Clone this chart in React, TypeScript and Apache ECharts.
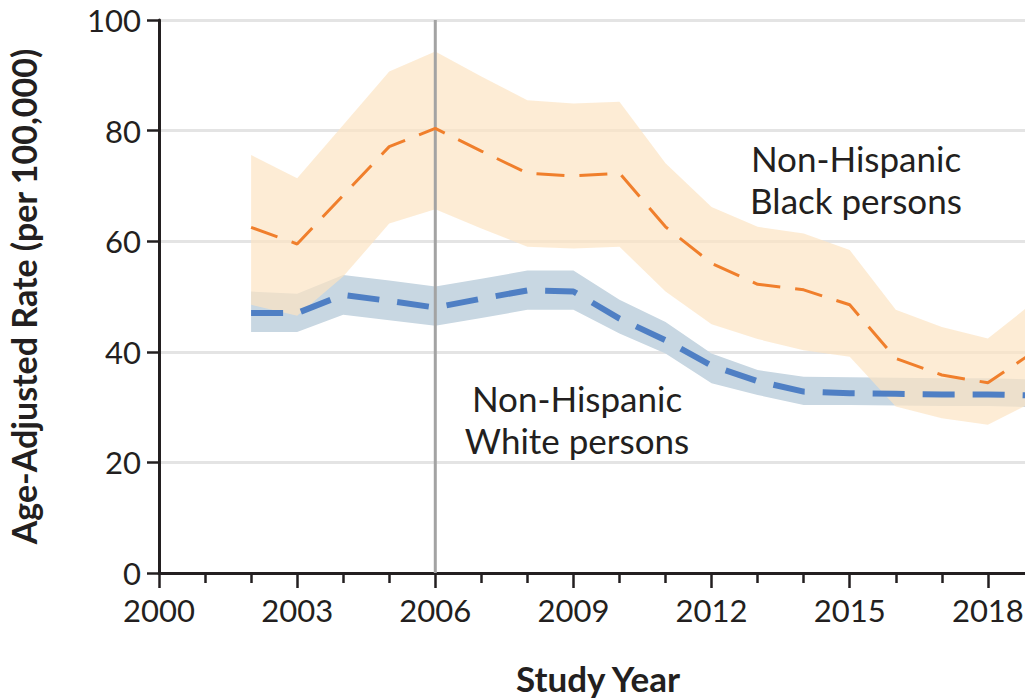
import React, { useEffect, useRef } from "react";
import * as echarts from "echarts";

const years = [2002, 2003, 2004, 2005, 2006, 2007, 2008, 2009, 2010, 2011, 2012, 2013, 2014, 2015, 2016, 2017, 2018, 2019];

const blackRate = [62.5, 59.5, 68.3, 77.1, 80.4, 76.3, 72.3, 71.8, 72.3, 62.6, 56.0, 52.2, 51.2, 48.5, 38.8, 35.8, 34.4, 40.0];
const blackUpper = [75.6, 71.4, 81.0, 90.7, 94.3, 89.8, 85.5, 84.9, 85.2, 74.1, 66.2, 62.6, 61.4, 58.4, 47.6, 44.5, 42.4, 49.0];
const blackLower = [48.5, 46.5, 53.6, 63.2, 65.8, 62.3, 59.0, 58.7, 59.0, 50.9, 45.0, 42.3, 40.3, 39.1, 30.1, 28.0, 26.8, 31.0];

const whiteRate = [47.0, 47.0, 50.3, 49.2, 48.0, 49.6, 51.1, 50.9, 46.0, 42.1, 37.5, 34.7, 32.8, 32.5, 32.4, 32.3, 32.3, 32.1];
const whiteUpper = [50.9, 50.5, 53.9, 52.9, 51.8, 53.2, 54.7, 54.7, 49.4, 45.4, 39.7, 36.7, 35.5, 35.4, 35.3, 35.2, 35.2, 35.0];
const whiteLower = [43.6, 43.6, 46.7, 45.7, 44.7, 46.1, 47.6, 47.6, 43.3, 39.7, 34.3, 32.2, 30.4, 30.4, 30.3, 30.2, 30.2, 30.0];

const referenceYear = 2006;
const xMin = 2000;
const xMax = 2021;
const lastLabelYear = 2018;
const yTicks = [0, 20, 40, 60, 80, 100];

const blackLabel = "Non-Hispanic\nBlack persons";
const whiteLabel = "Non-Hispanic\nWhite persons";
const xTitle = "Study Year";
const yTitle = "Age-Adjusted Rate (per 100,000)";

const INK = "#231f20";
const FONT = "Lato, 'Open Sans', sans-serif";

function pairs(vals: number[]) {
  return years.map((y, i) => [y, vals[i]]);
}

function bandSeries(upper: number[], lower: number[], fill: string, opacity: number) {
  return {
    type: "custom",
    silent: true,
    data: [[years[0], upper[0]]],
    renderItem: (params: any, api: any) => {
      const top = years.map((y, i) => api.coord([y, upper[i]]));
      const bottom = years.map((y, i) => api.coord([y, lower[i]])).reverse();
      return {
        type: "polygon",
        shape: { points: top.concat(bottom) },
        style: { fill, opacity },
      };
    },
  };
}

export default function App() {
  const ref = useRef<HTMLDivElement>(null);
  useEffect(() => {
    document.body.style.margin = "0";
    document.body.style.overflow = "hidden";
    document.documentElement.style.overflow = "hidden";
    if (!ref.current) return;
    const chart = echarts.init(ref.current, undefined, { renderer: "svg" });
    const yMin = yTicks[0];
    const yMax = yTicks[yTicks.length - 1];
    chart.setOption({
      animation: false,
      backgroundColor: "#ffffff",
      grid: {
        left: 159,
        top: 20,
        bottom: 125,
        right: 1,
        containLabel: false,
        outerBoundsMode: "none",
      },
      xAxis: {
        type: "value",
        min: xMin,
        max: xMax,
        interval: 3,
        axisLine: { onZero: false, lineStyle: { color: INK, width: 3 } },
        axisTick: { show: true, length: 15, lineStyle: { color: INK, width: 2.5 } },
        minorTick: { show: true, splitNumber: 3, length: 10, lineStyle: { color: INK, width: 2.5 } },
        splitLine: { show: false },
        axisLabel: {
          color: INK,
          fontSize: 31,
          fontFamily: FONT,
          margin: 21,
          formatter: (v: number) => (v <= lastLabelYear ? String(v) : ""),
        },
      },
      yAxis: {
        type: "value",
        min: yMin,
        max: yMax,
        interval: 20,
        name: yTitle,
        nameLocation: "middle",
        nameGap: 119,
        nameRotate: 90,
        nameTextStyle: { color: INK, fontSize: 34, fontWeight: "bold", fontFamily: FONT },
        axisLine: { show: true, lineStyle: { color: INK, width: 3 } },
        axisTick: { show: true, length: 12, lineStyle: { color: INK, width: 2.5 } },
        splitLine: { show: true, lineStyle: { color: "#e4e4e4", width: 3 } },
        axisLabel: { color: INK, fontSize: 31, fontFamily: FONT, margin: 18 },
      },
      graphic: [
        {
          type: "text",
          x: 856,
          y: 179,
          style: {
            text: blackLabel,
            textAlign: "center",
            textVerticalAlign: "middle",
            fontSize: 35,
            fontFamily: FONT,
            lineHeight: 42,
            fill: INK,
          },
          z: 100,
        },
        {
          type: "text",
          x: 577,
          y: 419,
          style: {
            text: whiteLabel,
            textAlign: "center",
            textVerticalAlign: "middle",
            fontSize: 35,
            fontFamily: FONT,
            lineHeight: 42,
            fill: INK,
          },
          z: 100,
        },
        {
          type: "text",
          x: 598,
          y: 678,
          style: {
            text: xTitle,
            textAlign: "center",
            textVerticalAlign: "middle",
            fontSize: 35,
            fontWeight: "bold",
            fontFamily: FONT,
            fill: INK,
          },
          z: 100,
        },
      ],
      series: [
        bandSeries(whiteUpper, whiteLower, "#c8d7e2", 1),
        bandSeries(blackUpper, blackLower, "rgb(252,228,195)", 0.7),
        {
          type: "line",
          data: [
            [referenceYear, yMin],
            [referenceYear, yMax],
          ],
          symbol: "none",
          lineStyle: { color: "#a3a3a3", width: 3 },
          silent: true,
        },
        {
          type: "line",
          data: pairs(whiteRate),
          symbol: "none",
          lineStyle: { color: "#4f7fc4", width: 6, type: [32, 18] },
          silent: true,
        },
        {
          type: "line",
          data: pairs(blackRate),
          symbol: "none",
          lineStyle: { color: "#f07f2c", width: 3, type: [28, 15] },
          silent: true,
        },
      ],
    });
    return () => chart.dispose();
  }, []);
  return <div ref={ref} style={{ width: 1127, height: 698 }} />;
}
